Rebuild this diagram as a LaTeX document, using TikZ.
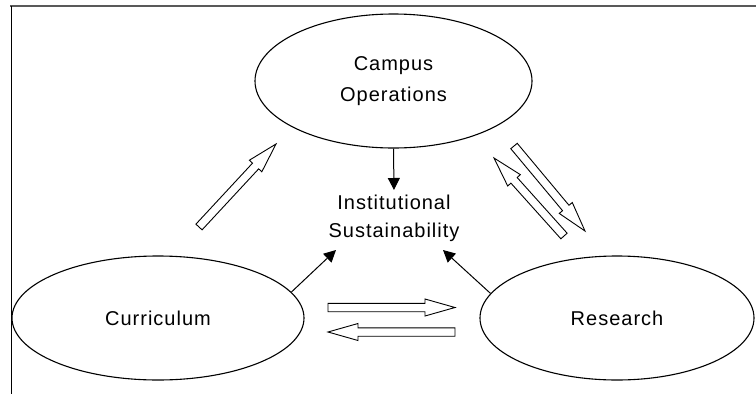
\documentclass[tikz,border=0pt]{standalone}
\usepackage{fontspec}
\setmainfont{Liberation Sans}[LetterSpace=5]
\usetikzlibrary{shapes.geometric,calc,arrows.meta}
\definecolor{framegray}{HTML}{595959}
\newcommand\blockarrow[2]{%
  \coordinate (hb) at ($(#2)!30pt!(#1)$);
  \draw[blockarr] ($(#1)!4.2pt!90:(#2)$) -- ($(hb)!4.2pt!90:(#2)$) -- ($(hb)!8.5pt!90:(#2)$) -- (#2)
    -- ($(hb)!8.5pt!-90:(#2)$) -- ($(hb)!4.2pt!-90:(#2)$) -- ($(#1)!4.2pt!-90:(#2)$) -- cycle;}
\begin{document}
\begin{tikzpicture}[x=1pt,y=1pt, font=\fontsize{20}{28}\selectfont,
  oval/.style={draw, ellipse, line width=1.1pt, inner sep=0pt, align=center},
  blockarr/.style={draw, line width=0.9pt, fill=white, line join=miter},
  pointer/.style={draw, line width=1pt, -{Triangle[length=12pt,width=12pt]}}]
\useasboundingbox (0,0) rectangle (756,-394);
\draw[line width=2pt, color=framegray] (10,-6) -- (756,-6);
\draw[line width=1pt] (11,-6) -- (11,-394);

\node[oval, minimum width=277pt, minimum height=134pt, font=\fontsize{20}{31}\selectfont] (camp) at (393.5,-81) {Campus\\Operations};
\node[oval, minimum width=292pt, minimum height=124pt] (cur) at (158,-318) {Curriculum};
\node[oval, minimum width=274pt, minimum height=124pt] (res) at (617,-318) {Research};
\node[align=center, inner sep=0pt] (inst) at (394,-218) {Institutional\\Sustainability};

\coordinate (tipC) at (394,-190);
\coordinate (tipL) at (336,-250);
\coordinate (tipR) at (443,-250);
\draw[pointer] (camp.south) -- (tipC);
\draw[pointer] (cur.11) -- (tipL);
\draw[pointer] (res.169) -- (tipR);

\coordinate (a1t) at (199,-227);
\coordinate (a1h) at (276,-144);
\coordinate (a2t) at (514,-146);
\coordinate (a2h) at (585,-231);
\coordinate (a3t) at (564,-236);
\coordinate (a3h) at (494,-158);
\coordinate (a4t) at (328,-307.5);
\coordinate (a4h) at (455,-307.5);
\coordinate (a5t) at (455,-332);
\coordinate (a5h) at (328,-332);
\blockarrow{a1t}{a1h}
\blockarrow{a2t}{a2h}
\blockarrow{a3t}{a3h}
\blockarrow{a4t}{a4h}
\blockarrow{a5t}{a5h}
\end{tikzpicture}
\end{document}
